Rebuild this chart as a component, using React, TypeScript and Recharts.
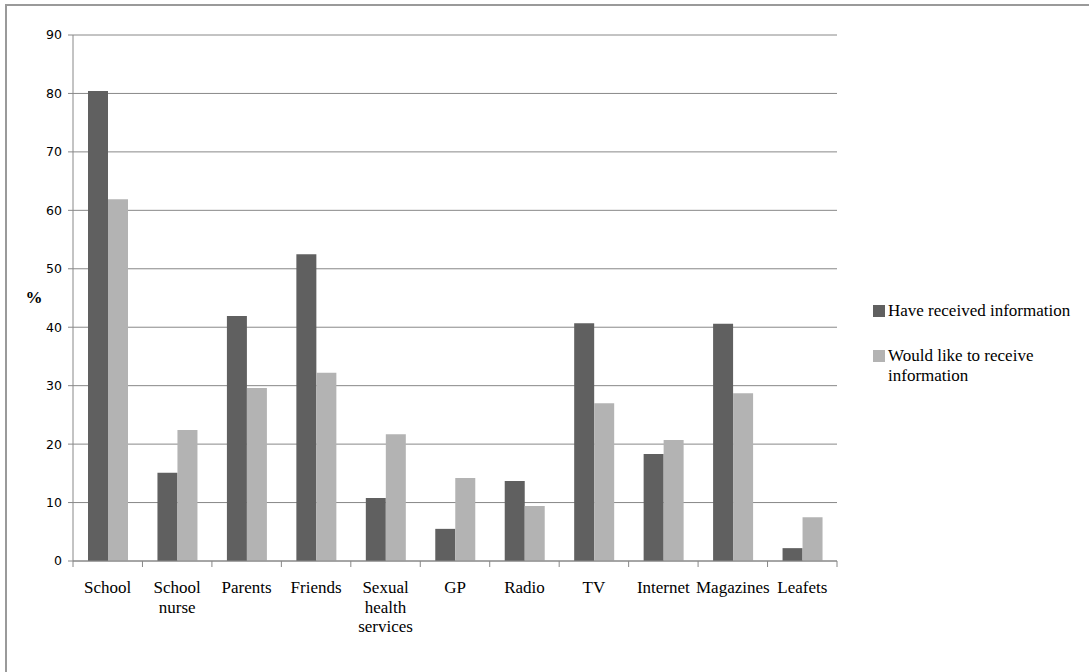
import { BarChart, Bar, XAxis, YAxis, CartesianGrid, Label } from "recharts";

const categories = ["School", "School nurse", "Parents", "Friends", "Sexual health services", "GP", "Radio", "TV", "Internet", "Magazines", "Leafets"];
const received = [80.4, 15.1, 41.9, 52.5, 10.8, 5.5, 13.7, 40.7, 18.3, 40.6, 2.2];
const wouldLike = [61.9, 22.4, 29.6, 32.2, 21.7, 14.2, 9.4, 27.0, 20.7, 28.7, 7.5];
const yTicks = [0, 10, 20, 30, 40, 50, 60, 70, 80, 90];

const SERIES = [
  { key: "received", name: "Have received information", color: "#606060" },
  { key: "wouldLike", name: "Would like to receive information", color: "#b3b3b3" },
];

const data = categories.map((c, i) => ({ name: c, received: received[i], wouldLike: wouldLike[i] }));

const W = 1089;
const H = 672;
const MARGIN = { top: 35, right: 252, bottom: 0, left: 0 };
const Y_W = 73;
const PLOT_W = W - MARGIN.left - MARGIN.right - Y_W;
const STEP = PLOT_W / categories.length;
const AXIS = "#888888";
const SERIF = '"Liberation Serif", "Times New Roman", serif';

// category labels: one word per line, tick marks sit on the band edges
function CategoryTick(props: any) {
  const { x, y, payload, index } = props;
  const words = String(payload.value).split(" ");
  return (
    <g>
      <line x1={x - STEP / 2} x2={x - STEP / 2} y1={y} y2={y + 6} stroke={AXIS} />
      {index === categories.length - 1 && (
        <line x1={x + STEP / 2} x2={x + STEP / 2} y1={y} y2={y + 6} stroke={AXIS} />
      )}
      <text x={x} y={y + 32} textAnchor="middle" fontFamily={SERIF} fontSize={17} fill="#000">
        {words.map((w, i) => (
          <tspan key={i} x={x} dy={i === 0 ? 0 : 19.5}>{w}</tspan>
        ))}
      </text>
    </g>
  );
}

function PercentLabel(props: any) {
  const { viewBox } = props;
  return (
    <text x={viewBox.x + 34} y={viewBox.y + viewBox.height / 2 + 5} textAnchor="middle"
      fontFamily={SERIF} fontWeight="bold" fontSize={17} fill="#000">
      %
    </text>
  );
}

function LegendBox() {
  return (
    <div style={{ position: "absolute", left: 873, top: 301, fontFamily: SERIF, fontSize: 17, color: "#000", lineHeight: "20px" }}>
      {SERIES.map((s, i) => (
        <div key={s.key} style={{ display: "flex", alignItems: "flex-start", marginTop: i === 0 ? 0 : 25 }}>
          <span style={{ width: 12, height: 12, background: s.color, marginTop: 4, marginRight: 3, flex: "none" }} />
          <span style={{ width: 198 }}>{s.name}</span>
        </div>
      ))}
    </div>
  );
}

export default function App() {
  return (
    <div style={{ position: "absolute", left: 0, top: 0, width: W, height: H, background: "#fff", overflow: "hidden" }}>
      <div style={{ position: "absolute", left: 5, top: 4, width: 1200, height: 800, border: "2px solid #9a9a9a" }} />
      <div style={{ position: "absolute", left: 0, top: 0 }}>
        <BarChart width={W} height={H} data={data} margin={MARGIN} barGap={0} barSize={20}>
          <CartesianGrid vertical={false} stroke={AXIS} />
          <XAxis
            dataKey="name"
            height={H - 561}
            interval={0}
            tickSize={0}
            tickMargin={0}
            axisLine={{ stroke: AXIS }}
            tick={<CategoryTick />}
          />
          <YAxis
            width={Y_W}
            domain={[0, 90]}
            ticks={yTicks}
            interval={0}
            tickSize={5}
            tickMargin={6}
            axisLine={{ stroke: AXIS }}
            tickLine={{ stroke: AXIS }}
            tick={{ fill: "#000", fontSize: 12.5, fontFamily: '"DejaVu Sans", sans-serif' }}
          >
            <Label content={<PercentLabel />} />
          </YAxis>
          {SERIES.map((s) => (
            <Bar key={s.key} dataKey={s.key} name={s.name} fill={s.color} isAnimationActive={false} />
          ))}
        </BarChart>
      </div>
      <LegendBox />
    </div>
  );
}
